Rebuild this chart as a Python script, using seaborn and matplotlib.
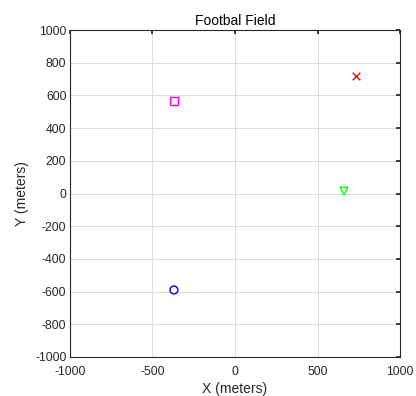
import matplotlib
matplotlib.use("Agg")
import matplotlib.pyplot as plt
import seaborn as sns
import pandas as pd

names = ["A", "B", "C", "D"]
xs = [-370, 730, 660, -370]
ys = [565, 720, 15, -590]
colors = ["#ff00ff", "#ff0000", "#00ff00", "#0000ff"]
markers = ["s", "x", "v", "o"]

sns.set_theme(style="whitegrid")
plt.rcParams['font.family'] = ['Liberation Sans', 'DejaVu Sans']
plt.rcParams['axes.unicode_minus'] = False

df = pd.DataFrame({"name": names, "x": xs, "y": ys})

fig = plt.figure(figsize=(4.16, 3.96), dpi=100)
ax = fig.add_axes([0.168, 0.0985, 0.794, 0.8255])
for n, c, m in zip(names, colors, markers):
    sub = df[df["name"] == n]
    if m == "x":
        sns.scatterplot(data=sub, x="x", y="y", ax=ax, marker=m, color=c, s=30, linewidth=1.0)
    else:
        sns.scatterplot(data=sub, x="x", y="y", ax=ax, marker=m, facecolors="none", edgecolor=c, s=32, linewidth=1.0)

ax.set_xlim(-1000, 1000)
ax.set_ylim(-1000, 1000)
ax.set_xticks([-1000, -500, 0, 500, 1000])
ax.set_yticks(list(range(-1000, 1001, 200)))
ax.grid(True, color="#dcdcdc", linewidth=0.7)
for s in ax.spines.values():
    s.set_color("#262626")
    s.set_linewidth(0.8)
ax.set_facecolor("white")
ax.tick_params(axis="both", labelsize=8.7, colors="#262626", length=3, direction="in")
ax.tick_params(axis="x", pad=6.5)
ax.tick_params(axis="y", pad=2.5)
ax.tick_params(top=True, right=True)
ax.set_xlabel("X (meters)", fontsize=10, color="#262626", labelpad=3)
ax.set_ylabel("Y (meters)", fontsize=10, color="#262626", labelpad=4)
ax.set_title("Footbal Field", fontsize=10, color="black", pad=4)

fig.savefig("out.png", dpi=100)
